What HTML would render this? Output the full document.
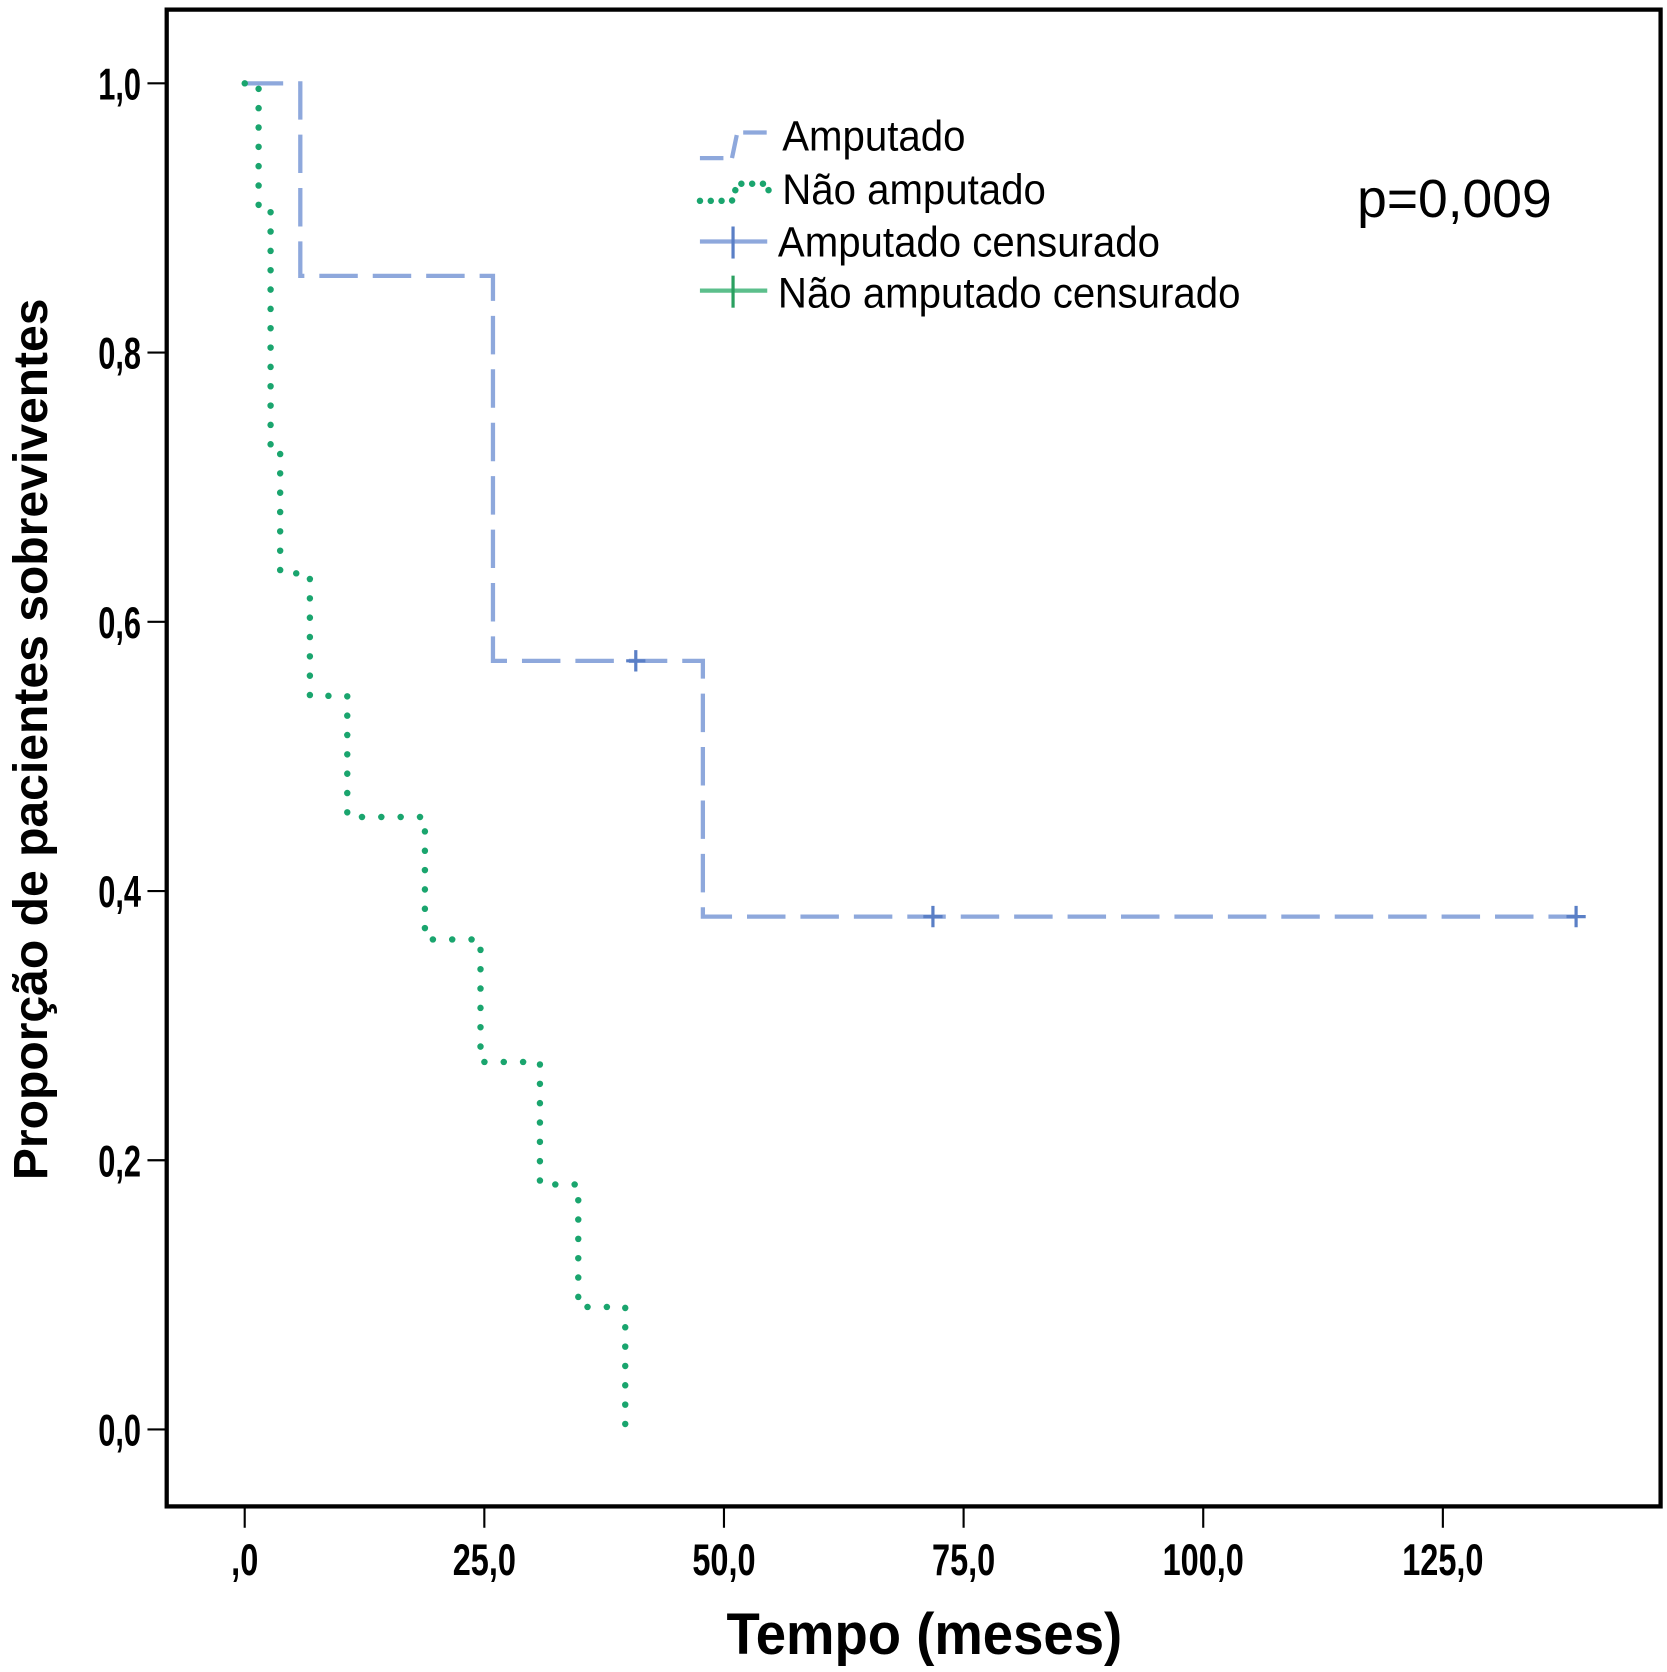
<!DOCTYPE html>
<html><head><meta charset="utf-8"><style>
html,body{margin:0;padding:0;background:#fff;}
svg{display:block;}
text{font-family:"Liberation Sans",sans-serif;}
</style></head><body>
<svg id="chart" width="1667" height="1672" viewBox="0 0 1560 1565" preserveAspectRatio="none" xmlns="http://www.w3.org/2000/svg">
<rect x="0" y="0" width="1560" height="1565" fill="#fff"/>
<rect x="156" y="9" width="1398" height="1401" fill="none" stroke="#000" stroke-width="4"/>
<g id="axes"></g>
<g id="series"></g>
<g>
  <path d="M655 148 L685 148 L690 124 L718 124" fill="none" stroke="#8ea8dc" stroke-width="4" stroke-dasharray="22 8"/>
  <text x="732" y="141" font-size="38" fill="#000" transform="translate(732,141) scale(0.99,1.05) translate(-732,-141)">Amputado</text>
  <path d="M655 188 L685 188 L690 172 L718 172 L720 182" fill="none" stroke="#1aa56e" stroke-width="6" stroke-dasharray="0.1 10" stroke-linecap="round"/>
  <text x="732" y="191" font-size="38" fill="#000" transform="translate(732,191) scale(0.99,1.05) translate(-732,-191)">Não amputado</text>
  <line x1="655" y1="226" x2="718" y2="226" stroke="#8ea8dc" stroke-width="4"/>
  <line x1="686" y1="212" x2="686" y2="242" stroke="#5a7fc6" stroke-width="3"/>
  <text x="728" y="240" font-size="38" fill="#000" transform="translate(728,240) scale(0.99,1.05) translate(-728,-240)">Amputado censurado</text>
  <line x1="655" y1="272" x2="718" y2="272" stroke="#5cbf8c" stroke-width="4"/>
  <line x1="686" y1="258" x2="686" y2="288" stroke="#2aa060" stroke-width="3"/>
  <text x="728" y="288" font-size="38" fill="#000" transform="translate(728,288) scale(0.99,1.05) translate(-728,-288)">Não amputado censurado</text>
</g>
<text x="1270" y="203" font-size="50" fill="#000">p=0,009</text>
<text x="865" y="1548" font-size="50" font-weight="bold" text-anchor="middle" fill="#000" transform="translate(865,1548) scale(1.02,1.1) translate(-865,-1548)">Tempo (meses)</text>
<text transform="translate(44,692) rotate(-90) scale(1.0,1.0)" font-size="45" font-weight="bold" text-anchor="middle" fill="#000">Proporção de pacientes sobreviventes</text>
</svg>
<script>
const xTicks = [0, 25, 50, 75, 100, 125];
const xTickLabels = [",0", "25,0", "50,0", "75,0", "100,0", "125,0"];
const yTicks = [0, 0.2, 0.4, 0.6, 0.8, 1.0];
const yTickLabels = ["0,0", "0,2", "0,4", "0,6", "0,8", "1,0"];
const ampTimes = [0, 5.8, 25.9, 47.8];
const ampSurv = [1.0, 0.857, 0.571, 0.381];
const ampEnd = 138.9;
const ampCensorT = [40.8, 71.8, 138.9];
const ampCensorS = [0.571, 0.381, 0.381];
const naoTimes = [0, 1.45, 2.7, 3.7, 6.8, 10.7, 18.8, 24.6, 30.8, 34.8, 39.7];
const naoSurv = [1.0, 0.909, 0.727, 0.636, 0.545, 0.455, 0.364, 0.273, 0.182, 0.091, 0.0];

const NS = "http://www.w3.org/2000/svg";
const X = t => 229 + t * 8.97;
const Y = s => 1338 - s * 1260;
function mk(tag, attrs, parent) {
  const e = document.createElementNS(NS, tag);
  for (const k in attrs) e.setAttribute(k, attrs[k]);
  parent.appendChild(e);
  return e;
}
const axes = document.getElementById('axes');
xTicks.forEach((t, i) => {
  const l = mk('line', {x1: X(t), y1: 1410, x2: X(t), y2: 1430, stroke: '#000', 'stroke-width': 2}, axes);
  
  
  const tx = mk('text', {x: 0, y: 0, 'font-size': 32, 'font-weight': 'bold', 'text-anchor': 'middle', fill: '#000', transform: 'translate(' + X(t) + ',1474) scale(0.95,1.3)'}, axes);
  tx.textContent = xTickLabels[i];
  
  
});
yTicks.forEach((s, i) => {
  const l = mk('line', {x1: 138, y1: Y(s), x2: 156, y2: Y(s), stroke: '#000', 'stroke-width': 2}, axes);
  
  
  const tx = mk('text', {x: 0, y: 0, 'font-size': 32, 'font-weight': 'bold', 'text-anchor': 'end', fill: '#000', transform: 'translate(132,' + (Y(s) + 15) + ') scale(0.9,1.3)'}, axes);
  tx.textContent = yTickLabels[i];
  
  
});
const series = document.getElementById('series');
function stepPath(times, surv, end) {
  let d = 'M' + X(times[0]) + ' ' + Y(surv[0]);
  for (let i = 1; i < times.length; i++) {
    d += ' L' + X(times[i]) + ' ' + Y(surv[i - 1]) + ' L' + X(times[i]) + ' ' + Y(surv[i]);
  }
  if (end !== undefined) d += ' L' + X(end) + ' ' + Y(surv[surv.length - 1]);
  return d;
}
const amp = mk('path', {d: stepPath(ampTimes, ampSurv, ampEnd), fill: 'none', stroke: '#8ea8dc', 'stroke-width': 4, 'stroke-dasharray': '36 14'}, series);


ampCensorT.forEach((t, i) => {
  const g = mk('path', {d: 'M' + (X(t) - 9) + ' ' + Y(ampCensorS[i]) + ' h18 M' + X(t) + ' ' + (Y(ampCensorS[i]) - 10) + ' v20', stroke: '#5a7fc6', 'stroke-width': 3, fill: 'none'}, series);
  
  
});
const nao = mk('path', {d: stepPath(naoTimes, naoSurv), fill: 'none', stroke: '#1aa56e', 'stroke-width': 6, 'stroke-dasharray': '0.1 18', 'stroke-linecap': 'round'}, series);


</script>
</body></html>
